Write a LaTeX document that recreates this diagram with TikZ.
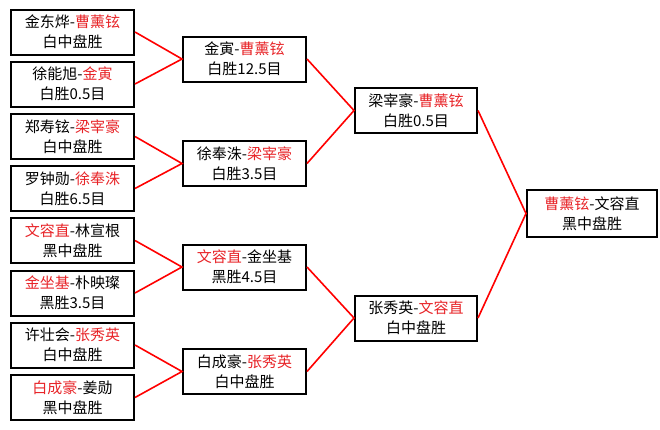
\documentclass[tikz,border=0pt]{standalone}
\usepackage{fontspec}
\setmainfont{Noto Sans CJK SC}
\definecolor{win}{RGB}{232,36,40}
\newcommand\hl[1]{\textcolor{win}{#1}}
\begin{document}
\begin{tikzpicture}[x=1pt,y=-1pt,
  game/.style={draw=black,line width=2pt,rectangle,minimum width=123pt,minimum height=45pt,
    align=center,inner sep=0pt,font=\fontsize{15}{20}\selectfont},
  conn/.style={draw=red,line width=1.6pt}]
\useasboundingbox[fill=white] (0,0) rectangle (660,429);
% round 1
\node[game] (a1) at (72.5,32) {金东烨-\hl{曹薰铉}\\白中盘胜};
\node[game] (a2) at (72.5,84) {徐能旭-\hl{金寅}\\白胜0.5目};
\node[game] (a3) at (72.5,136.5) {郑寿铉-\hl{梁宰豪}\\白中盘胜};
\node[game] (a4) at (72.5,188.5) {罗钟勋-\hl{徐奉洙}\\白胜6.5目};
\node[game] (a5) at (72.5,240.5) {\hl{文容直}-林宣根\\黑中盘胜};
\node[game] (a6) at (72.5,293) {\hl{金坐基}-朴映璨\\黑胜3.5目};
\node[game] (a7) at (72.5,345) {许壮会-\hl{张秀英}\\白中盘胜};
\node[game] (a8) at (72.5,397.5) {\hl{白成豪}-姜勋\\黑中盘胜};
% round 2
\node[game] (b1) at (244.5,59) {金寅-\hl{曹薰铉}\\白胜12.5目};
\node[game] (b2) at (244.5,163.5) {徐奉洙-\hl{梁宰豪}\\白胜3.5目};
\node[game] (b3) at (244.5,267) {\hl{文容直}-金坐基\\黑胜4.5目};
\node[game] (b4) at (244.5,371.5) {白成豪-\hl{张秀英}\\白中盘胜};
% round 3
\node[game,minimum width=122pt] (c1) at (416,110.5) {梁宰豪-\hl{曹薰铉}\\白胜0.5目};
\node[game,minimum width=122pt] (c2) at (416,318) {张秀英-\hl{文容直}\\白中盘胜};
% final
\node[game,minimum width=130pt,minimum height=47pt] (d1) at (592,213.5) {\hl{曹薰铉}-文容直\\黑中盘胜};
% connectors
\draw[conn] (a1.east) -- (b1.west) -- (a2.east);
\draw[conn] (a3.east) -- (b2.west) -- (a4.east);
\draw[conn] (a5.east) -- (b3.west) -- (a6.east);
\draw[conn] (a7.east) -- (b4.west) -- (a8.east);
\draw[conn] (b1.east) -- (c1.west) -- (b2.east);
\draw[conn] (b3.east) -- (c2.west) -- (b4.east);
\draw[conn] (c1.east) -- (d1.west) -- (c2.east);
\end{tikzpicture}
\end{document}
